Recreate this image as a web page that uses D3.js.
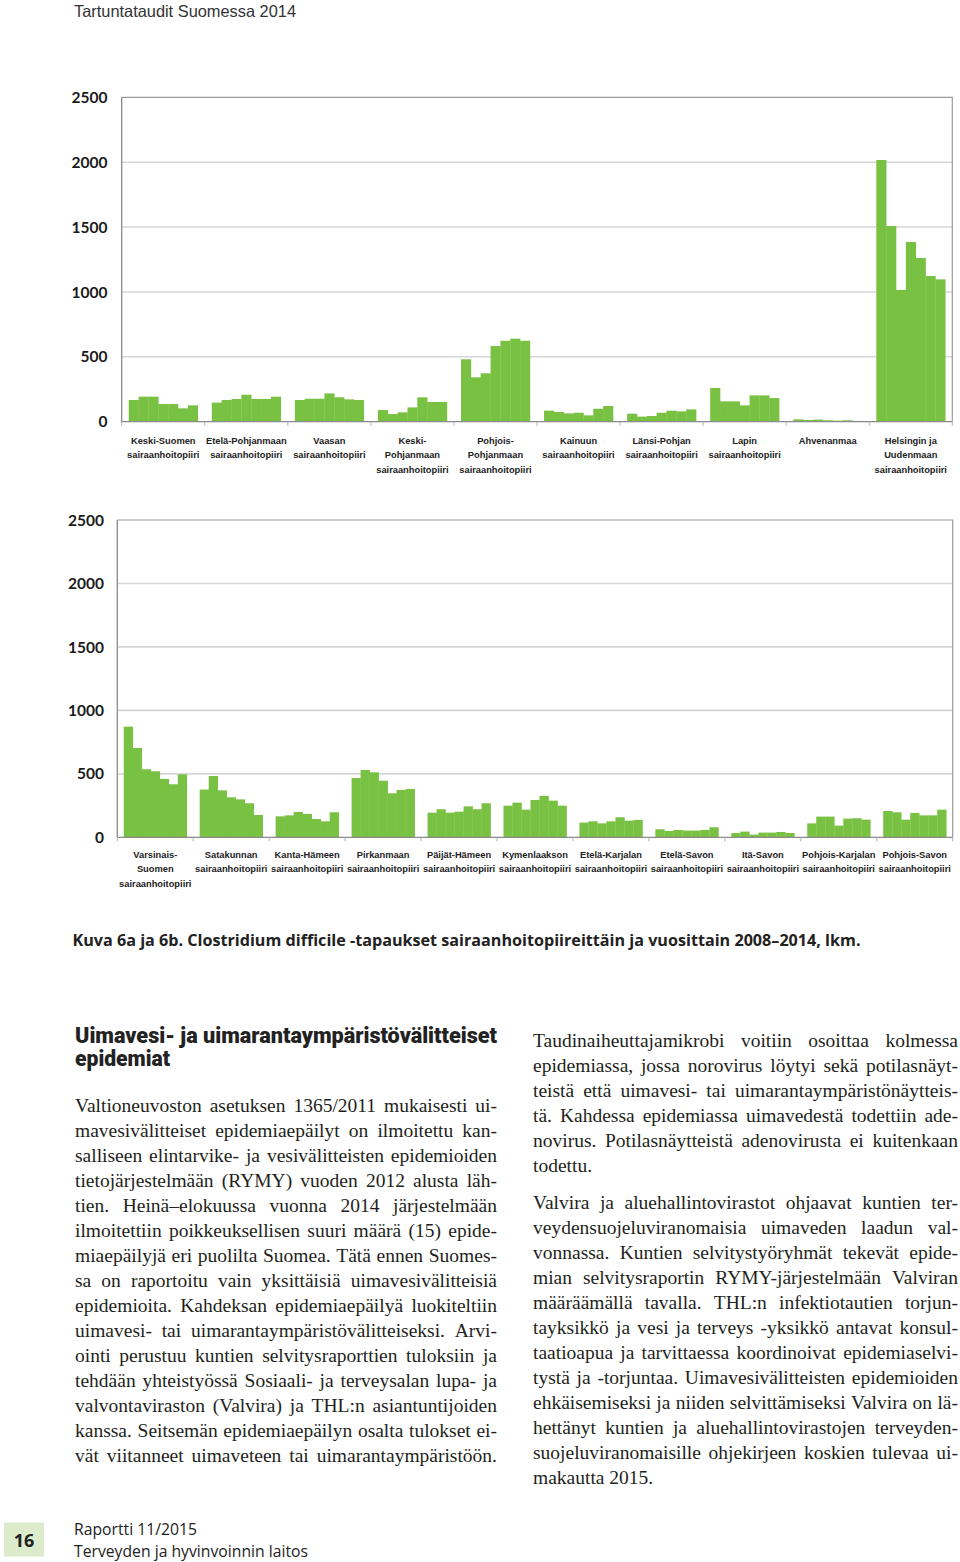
<!DOCTYPE html>
<html><head><meta charset="utf-8">
<script src="https://cdn.jsdelivr.net/npm/d3@7"></script>
<style>
html,body{margin:0;padding:0;background:#fff;}
svg{display:block;}
</style></head>
<body>
<script>
// ---------------- DATA ----------------
const years = [2008, 2009, 2010, 2011, 2012, 2013, 2014];
const yTicks = [0, 500, 1000, 1500, 2000, 2500];

const topRegions = [
  "Keski-Suomen\nsairaanhoitopiiri",
  "Etelä-Pohjanmaan\nsairaanhoitopiiri",
  "Vaasan\nsairaanhoitopiiri",
  "Keski-\nPohjanmaan\nsairaanhoitopiiri",
  "Pohjois-\nPohjanmaan\nsairaanhoitopiiri",
  "Kainuun\nsairaanhoitopiiri",
  "Länsi-Pohjan\nsairaanhoitopiiri",
  "Lapin\nsairaanhoitopiiri",
  "Ahvenanmaa",
  "Helsingin ja\nUudenmaan\nsairaanhoitopiiri"
];
const topValues = [
  [167, 193, 193, 136, 136, 103, 126],
  [147, 167, 175, 208, 175, 175, 193],
  [167, 177, 177, 218, 188, 172, 167],
  [90, 59, 72, 110, 188, 152, 152],
  [481, 342, 373, 583, 624, 640, 624],
  [85, 75, 64, 69, 49, 100, 121],
  [62, 39, 44, 69, 85, 80, 95],
  [260, 157, 157, 126, 203, 203, 182],
  [18, 13, 16, 11, 8, 11, 6],
  [2017, 1508, 1015, 1385, 1262, 1123, 1097]
];

const bottomRegions = [
  "Varsinais-\nSuomen\nsairaanhoitopiiri",
  "Satakunnan\nsairaanhoitopiiri",
  "Kanta-Hämeen\nsairaanhoitopiiri",
  "Pirkanmaan\nsairaanhoitopiiri",
  "Päijät-Hämeen\nsairaanhoitopiiri",
  "Kymenlaakson\nsairaanhoitopiiri",
  "Etelä-Karjalan\nsairaanhoitopiiri",
  "Etelä-Savon\nsairaanhoitopiiri",
  "Itä-Savon\nsairaanhoitopiiri",
  "Pohjois-Karjalan\nsairaanhoitopiiri",
  "Pohjois-Savon\nsairaanhoitopiiri"
];
const bottomValues = [
  [872, 704, 536, 520, 460, 418, 496],
  [376, 483, 370, 315, 299, 268, 176],
  [165, 173, 200, 184, 144, 126, 197],
  [467, 530, 512, 446, 347, 373, 381],
  [194, 221, 194, 202, 244, 221, 268],
  [249, 273, 218, 294, 326, 289, 249],
  [116, 126, 110, 126, 158, 131, 137],
  [63, 50, 58, 53, 53, 58, 79],
  [34, 45, 21, 37, 37, 42, 34],
  [110, 163, 163, 92, 147, 150, 139],
  [207, 197, 139, 192, 173, 173, 218]
];

const pageHeader = "Tartuntataudit Suomessa 2014";
const caption = "Kuva 6a ja 6b. Clostridium difficile -tapaukset sairaanhoitopiireittäin ja vuosittain 2008–2014, lkm.";
const heading = ["Uimavesi- ja uimarantaympäristövälitteiset", "epidemiat"];
const leftBody = [
  "Valtioneuvoston asetuksen 1365/2011 mukaisesti ui-",
  "mavesivälitteiset epidemiaepäilyt on ilmoitettu kan-",
  "salliseen elintarvike- ja vesivälitteisten epidemioiden",
  "tietojärjestelmään (RYMY) vuoden 2012 alusta läh-",
  "tien. Heinä–elokuussa vuonna 2014 järjestelmään",
  "ilmoitettiin poikkeuksellisen suuri määrä (15) epide-",
  "miaepäilyjä eri puolilta Suomea. Tätä ennen Suomes-",
  "sa on raportoitu vain yksittäisiä uimavesivälitteisiä",
  "epidemioita. Kahdeksan epidemiaepäilyä luokiteltiin",
  "uimavesi- tai uimarantaympäristövälitteiseksi. Arvi-",
  "ointi perustuu kuntien selvitysraporttien tuloksiin ja",
  "tehdään yhteistyössä Sosiaali- ja terveysalan lupa- ja",
  "valvontaviraston (Valvira) ja THL:n asiantuntijoiden",
  "kanssa. Seitsemän epidemiaepäilyn osalta tulokset ei-",
  "vät viitanneet uimaveteen tai uimarantaympäristöön."
];
const rightPara1 = [
  "Taudinaiheuttajamikrobi voitiin osoittaa kolmessa",
  "epidemiassa, jossa norovirus löytyi sekä potilasnäyt-",
  "teistä että uimavesi- tai uimarantaympäristönäytteis-",
  "tä. Kahdessa epidemiassa uimavedestä todettiin ade-",
  "novirus. Potilasnäytteistä adenovirusta ei kuitenkaan",
  "todettu."
];
const rightPara2 = [
  "Valvira ja aluehallintovirastot ohjaavat kuntien ter-",
  "veydensuojeluviranomaisia uimaveden laadun val-",
  "vonnassa. Kuntien selvitystyöryhmät tekevät epide-",
  "mian selvitysraportin RYMY-järjestelmään Valviran",
  "määräämällä tavalla. THL:n infektiotautien torjun-",
  "tayksikkö ja vesi ja terveys -yksikkö antavat konsul-",
  "taatioapua ja tarvittaessa koordinoivat epidemiaselvi-",
  "tystä ja -torjuntaa. Uimavesivälitteisten epidemioiden",
  "ehkäisemiseksi ja niiden selvittämiseksi Valvira on lä-",
  "hettänyt kuntien ja aluehallintovirastojen terveyden-",
  "suojeluviranomaisille ohjekirjeen koskien tulevaa ui-",
  "makautta 2015."
];
const footerLines = ["Raportti 11/2015", "Terveyden ja hyvinvoinnin laitos"];
const pageNumber = "16";

// ---------------- DRAWING ----------------
const W = 960, H = 1562;
const svg = d3.select("body").append("svg").attr("width", W).attr("height", H);
svg.append("rect").attr("width", W).attr("height", H).attr("fill", "#fff");

const green = "#79c143";
const labelFont = "'Liberation Sans', Arial, sans-serif";

function drawChart(cfg) {
  const { regions, values, x0, x1, yTop, yZero, labelOffsets, tickRight } = cfg;
  const g = svg.append("g");
  const y = d3.scaleLinear().domain([0, 2500]).range([yZero, yTop]);
  const xg = d3.scaleBand().domain(d3.range(regions.length)).range([x0, x1])
    .paddingInner(0.17).paddingOuter(0.085);
  const xi = d3.scaleBand().domain(years).range([0, xg.bandwidth()]).padding(0);

  // gridlines
  g.append("g").selectAll("line").data(yTicks.filter(t => t > 0 && t < 2500)).join("line")
    .attr("x1", x0).attr("x2", x1).attr("y1", d => y(d)).attr("y2", d => y(d))
    .attr("stroke", "#d6d6d6").attr("stroke-width", 1.6);

  // frame top & right
  g.append("path").attr("d", `M${x0},${y(2500)}H${x1}V${yZero}`)
    .attr("fill", "none").attr("stroke", "#9a9a9a").attr("stroke-width", 1.2);

  // bars
  const groups = g.append("g").selectAll("g").data(values).join("g")
    .attr("transform", (d, i) => `translate(${xg(i)},0)`);
  groups.selectAll("rect").data(d => d.map((v, j) => ({ v, yr: years[j] }))).join("rect")
    .attr("x", d => xi(d.yr)).attr("width", xi.bandwidth() + 0.3)
    .attr("y", d => y(d.v)).attr("height", d => yZero - y(d.v))
    .attr("fill", green);

  // left axis line
  g.append("line").attr("x1", x0).attr("x2", x0).attr("y1", y(2500)).attr("y2", yZero)
    .attr("stroke", "#8a8a8a").attr("stroke-width", 1.3);
  // baseline axis
  g.append("line").attr("x1", x0).attr("x2", x1).attr("y1", yZero).attr("y2", yZero)
    .attr("stroke", "#8a8a8a").attr("stroke-width", 1.3);
  // category boundary ticks
  const step = xg.step();
  g.append("g").selectAll("line").data(d3.range(regions.length + 1)).join("line")
    .attr("x1", i => x0 + i * step).attr("x2", i => x0 + i * step)
    .attr("y1", yZero).attr("y2", yZero + 4)
    .attr("stroke", "#b0b0b0").attr("stroke-width", 1);

  // y tick labels
  g.append("g").selectAll("text").data(yTicks).join("text")
    .attr("x", tickRight).attr("y", d => y(d)).attr("dy", "0.36em")
    .attr("text-anchor", "end")
    .attr("font-family", "Lato, 'Liberation Sans', sans-serif")
    .attr("font-weight", 700).attr("font-size", 15.5).attr("fill", "#1a1a1a")
    .text(d => d);

  // category labels
  const lab = g.append("g").selectAll("text").data(regions).join("text")
    .attr("text-anchor", "middle")
    .attr("font-family", labelFont).attr("font-weight", 700)
    .attr("font-size", 9.3).attr("fill", "#222");
  lab.each(function (d, i) {
    const cx = xg(i) + xg.bandwidth() / 2;
    d.split("\n").forEach((line, k) => {
      d3.select(this).append("tspan").attr("x", cx).attr("y", yZero + labelOffsets[k]).text(line);
    });
  });
}

drawChart({ regions: topRegions, values: topValues, x0: 121.7, x1: 952.3, yTop: 97.3, yZero: 421.7,
  labelOffsets: [22, 36.5, 51], tickRight: 107.5 });
drawChart({ regions: bottomRegions, values: bottomValues, x0: 117.3, x1: 952.7, yTop: 520, yZero: 837.3,
  labelOffsets: [20.5, 35, 49.5], tickRight: 104 });

// page header
svg.append("text").attr("x", 74).attr("y", 16.5)
  .attr("font-family", "'Liberation Sans', sans-serif").attr("font-size", 16.5).attr("fill", "#333")
  .attr("textLength", 222).attr("lengthAdjust", "spacingAndGlyphs").text(pageHeader);

// caption
svg.append("text").attr("x", 72.5).attr("y", 945.5)
  .attr("font-family", "'Open Sans', sans-serif").attr("font-weight", 700)
  .attr("font-size", 16).attr("fill", "#222")
  .attr("textLength", 788).attr("lengthAdjust", "spacingAndGlyphs").text(caption);

// heading
svg.append("text").attr("x", 75).attr("y", 1043)
  .attr("font-family", "Roboto, sans-serif").attr("font-weight", 900)
  .attr("font-size", 21.5).attr("fill", "#222")
  .attr("textLength", 422).attr("lengthAdjust", "spacingAndGlyphs").text(heading[0]);
svg.append("text").attr("x", 75).attr("y", 1066)
  .attr("font-family", "Roboto, sans-serif").attr("font-weight", 900)
  .attr("font-size", 21.5).attr("fill", "#222")
  .attr("textLength", 95).attr("lengthAdjust", "spacingAndGlyphs").text(heading[1]);

// justified body text
const bodyFont = "'Liberation Serif', 'DejaVu Serif', serif";
const bodySize = 19.5;
const blocks = [
  { lines: leftBody, x: 75, w: 422, y0: 1111.7, justifyLast: true },
  { lines: rightPara1, x: 533, w: 425, y0: 1046.7, justifyLast: false },
  { lines: rightPara2, x: 533, w: 425, y0: 1209.2, justifyLast: false }
];
const measured = [];
let minScale = 1;
blocks.forEach(b => {
  b.lines.forEach((line, k) => {
    const t = svg.append("text").attr("font-family", bodyFont).attr("font-size", bodySize)
      .attr("fill", "#231f20").attr("y", b.y0 + k * 25);
    const words = line.split(" ");
    const spans = words.map(w => t.append("tspan").text(w));
    const widths = spans.map(s => s.node().getComputedTextLength());
    const sum = d3.sum(widths);
    const justify = (k < b.lines.length - 1) || b.justifyLast;
    if (justify && words.length > 1) {
      const need = sum + (words.length - 1) * bodySize * 0.2;
      minScale = Math.min(minScale, b.w / need);
    }
    measured.push({ b, t, spans, widths, sum, justify, n: words.length });
  });
});
measured.forEach(m => {
  const s = minScale;
  const wInner = m.b.w / s;
  const yy = +m.t.attr("y");
  m.t.attr("transform", `translate(${m.b.x},${yy}) scale(${s},1)`).attr("y", null);
  let gap = m.justify && m.n > 1 ? (wInner - m.sum) / (m.n - 1) : bodySize * 0.25;
  let cx = 0;
  m.spans.forEach((sp, i) => {
    sp.attr("x", cx).attr("y", 0);
    cx += m.widths[i] + gap;
  });
});

// footer
svg.append("rect").attr("x", 4).attr("y", 1522.5).attr("width", 40).attr("height", 34)
  .attr("fill", "#dcebcb");
svg.append("text").attr("x", 24).attr("y", 1546.5).attr("text-anchor", "middle")
  .attr("font-family", "'Open Sans', sans-serif").attr("font-weight", 700)
  .attr("font-size", 18).attr("fill", "#222").text(pageNumber);
svg.append("text").attr("x", 74).attr("y", 1535)
  .attr("font-family", "'Open Sans', sans-serif").attr("font-size", 16.5).attr("fill", "#222")
  .attr("textLength", 123).attr("lengthAdjust", "spacingAndGlyphs").text(footerLines[0]);
svg.append("text").attr("x", 74).attr("y", 1557)
  .attr("font-family", "'Open Sans', sans-serif").attr("font-size", 16.5).attr("fill", "#222")
  .attr("textLength", 234).attr("lengthAdjust", "spacingAndGlyphs").text(footerLines[1]);
</script>
</body></html>
